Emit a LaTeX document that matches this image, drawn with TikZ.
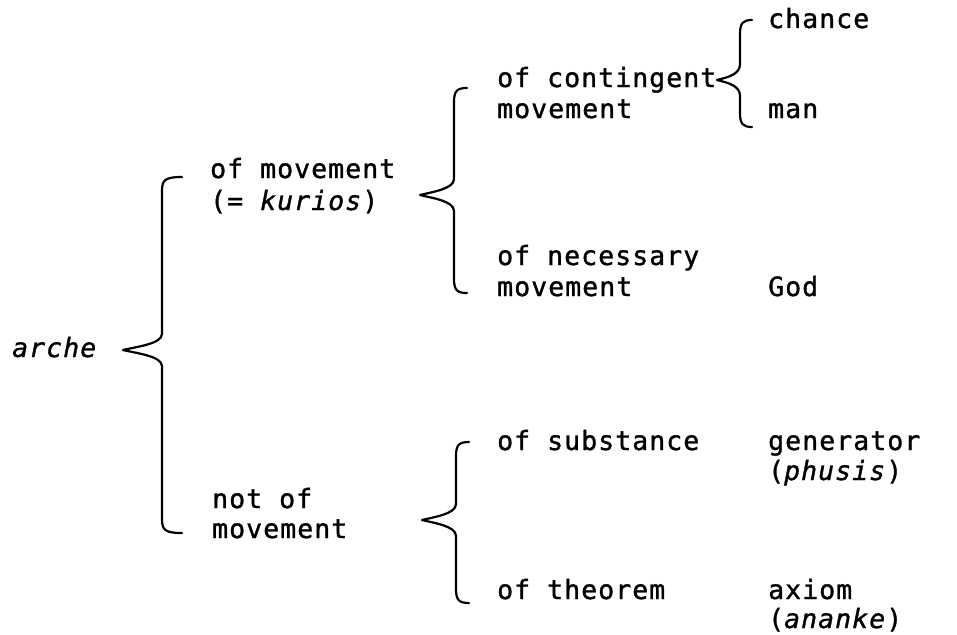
\documentclass[tikz,border=0pt]{standalone}
\usepackage{fontspec}
\newfontfamily\tw{DejaVu Sans Mono}[LetterSpace=4,FakeBold=1.2]
\begin{document}
\begin{tikzpicture}[x=1pt,y=-1pt,
  lab/.style={anchor=base west,inner sep=0pt,font=\tw\fontsize{26.5}{30}\selectfont},
  brace/.style={line width=2.2pt,line cap=round,line join=round}]
\useasboundingbox (0,0) rectangle (957,634);
% texts
\node[lab] (arche) at (12,357) {\itshape arche};
\node[lab] (mov1) at (210,178) {of movement};
\node[lab] (mov2) at (210,210) {(= \textit{kurios})};
\node[lab] (not1) at (212,508) {not of};
\node[lab] (not2) at (212,538) {movement};
\node[lab] (cont1) at (497,87) {of contingent};
\node[lab] (cont2) at (497,118) {movement};
\node[lab] (chance) at (768,28) {chance};
\node[lab] (man) at (768,118) {man};
\node[lab] (nec1) at (497,265) {of necessary};
\node[lab] (nec2) at (497,296) {movement};
\node[lab] (god) at (768,296) {God};
\node[lab] (subst) at (497,450) {of substance};
\node[lab] (gen) at (768,450) {generator};
\node[lab] (phu) at (768,480) {(\textit{phusis})};
\node[lab] (theo) at (497,599) {of theorem};
\node[lab] (ax) at (768,599) {axiom};
\node[lab] (ana) at (768,628) {(\textit{ananke})};
% braces: end x, vertical x, tip x, top y, mid y, bottom y
\newcommand\mybrace[6]{%
  \draw[brace] (#1,#4) .. controls ({#2+3},#4) and (#2,{#4+3}) .. (#2,{#4+14})
    -- (#2,{#5-16}) .. controls (#2,{#5-6}) and ({#3+12},{#5-3}) .. (#3,#5)
    .. controls ({#3+12},{#5+3}) and (#2,{#5+6}) .. (#2,{#5+16})
    -- (#2,{#6-14}) .. controls (#2,{#6-3}) and ({#2+3},#6) .. (#1,#6);}
\mybrace{182}{162}{123}{177}{350}{533}
\mybrace{467}{454}{420}{88}{195}{293}
\mybrace{752}{740}{717}{20}{80}{127}
\mybrace{469}{456}{422}{442}{520}{603}
\end{tikzpicture}
\end{document}
